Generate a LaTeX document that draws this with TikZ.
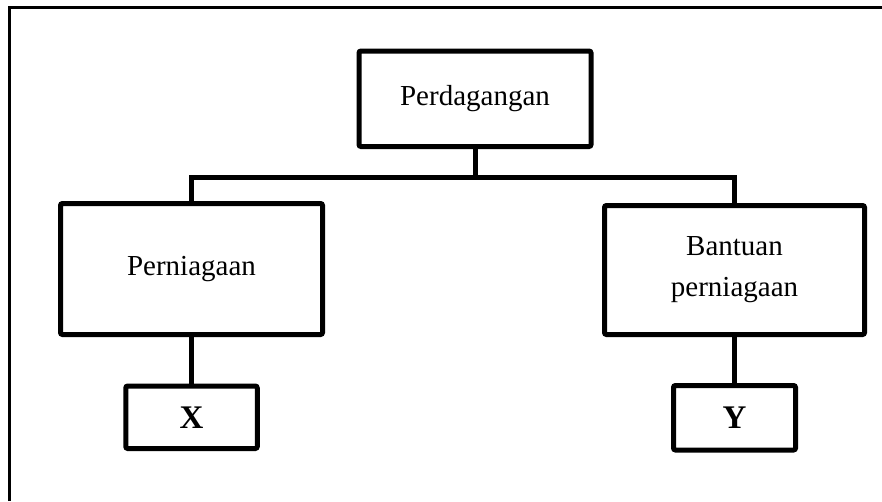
\documentclass[tikz,border=0pt]{standalone}
\usepackage{fontspec}
\setmainfont{Liberation Serif}
\begin{document}
\begin{tikzpicture}[x=1pt,y=-1pt,
  box/.style={draw, line width=5pt, rounded corners=2pt, inner sep=0pt, outer sep=0pt,
    align=center, font=\fontsize{29}{41}\selectfont},
  leaf/.style={box, font=\fontsize{33}{41}\selectfont\bfseries},
  conn/.style={line width=5pt}]
\useasboundingbox (0,0) rectangle (882,501);
\draw[line width=3pt] (9.5,501) -- (9.5,7) -- (882,7);
\node[box, minimum width=232pt, minimum height=95.5pt] (top) at (475,98.75) {Perdagangan};
\node[box, minimum width=262pt, minimum height=131pt] (per) at (191.5,269) {Perniagaan};
\node[box, minimum width=260pt, minimum height=129pt] (ban) at (734.5,270) {Bantuan\\perniagaan};
\node[leaf, minimum width=131.5pt, minimum height=62.5pt] (x) at (191.5,417.25) {X};
\node[leaf, minimum width=122pt, minimum height=64.5pt] (y) at (734.5,417.75) {Y};
\coordinate (j) at (475,177);
\draw[conn] (top.south) -- (j);
\draw[conn] (per.north) -- (per.north |- j) -- (ban.north |- j) -- (ban.north);
\draw[conn] (per.south) -- (x.north);
\draw[conn] (ban.south) -- (y.north);
\end{tikzpicture}
\end{document}
